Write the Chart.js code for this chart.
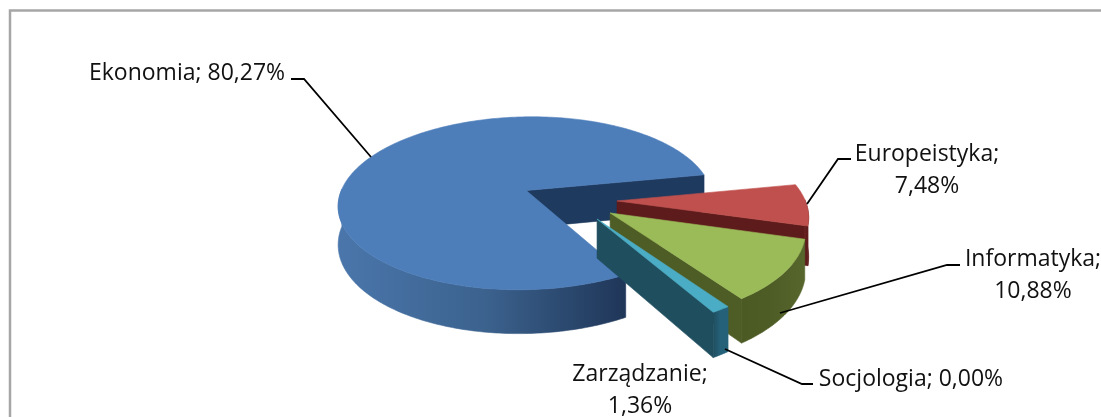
<!DOCTYPE html>
<html>
<head>
<meta charset="utf-8">
<title>Kierunki</title>
<script src="https://cdn.jsdelivr.net/npm/chart.js@4"></script>
<style>
    html, body { margin: 0; padding: 0; background: #fff; overflow: hidden; }
    canvas { display: block; }
</style>
</head>
<body>
<canvas id="pie3d" width="1101" height="417"></canvas>
<script>
const categories = ['Ekonomia', 'Europeistyka', 'Informatyka', 'Socjologia', 'Zarządzanie'];
const shares = [80.27, 7.48, 10.88, 0.00, 1.36];

const topColors = ['#4d7eba', '#c0504d', '#9bbb59', '#8064a2', '#4bacc6'];
const cutColors = ['#1f3a5f', '#5e1b1b', '#4e5d26', '#3f3151', '#1f4e5f'];
const rimColors = [
    ['#4a76ab', '#3c638f', '#1f3658'],
    ['#6b2321', '#5e1b1b', '#5e1b1b'],
    ['#4b5a23', '#4e5d26', '#56662c'],
    ['#3f3151', '#3f3151', '#3f3151'],
    ['#1f4e5f', '#25627a', '#25627a']
];
const explode = [50, 46, 47, 47, 47];

// label text lines are split where the original wraps, anchor = centre of the text
const labelLayout = [
    { lines: 1, x: 187, y: 73 },
    { lines: 2, x: 927, y: 154 },
    { lines: 2, x: 1033, y: 259 },
    { lines: 1, x: 911, y: 379 },
    { lines: 2, x: 640, y: 374 }
];
const leaders = [
    [[291, 79], [304, 79], [371, 157]],
    [[851, 159], [838, 159], [807, 204]],
    [[960, 265], [947, 265], [780, 313]],
    [[813, 384], [802, 384], [725, 349]],
    null
];

const RADIUS = 188;
const ORIGIN_X = 571;
const ORIGIN_Y = 200;
const SQUASH = 0.465;
const PERSPECTIVE = 0.15;
const DEPTH = 38;

const project = (u, v, down) => {
    const s = 1 / (1 - PERSPECTIVE * v / RADIUS);
    return [ORIGIN_X + u * s, ORIGIN_Y + v * SQUASH * s + (down ? DEPTH * s : 0)];
};

const fillShape = (ctx, pts, fill) => {
    ctx.beginPath();
    pts.forEach((p, i) => i ? ctx.lineTo(p[0], p[1]) : ctx.moveTo(p[0], p[1]));
    ctx.closePath();
    ctx.fillStyle = fill;
    ctx.fill();
    // thin same colour stroke closes the seams between faces
    ctx.strokeStyle = fill;
    ctx.lineWidth = 0.6;
    ctx.stroke();
};

const drawSlice = (ctx, arc, i) => {
    const { startAngle, endAngle } = arc;
    if (endAngle - startAngle < 0.001) return;

    const mid = (startAngle + endAngle) / 2;
    const off = arc.options.offset;
    const cu = Math.cos(mid) * off;
    const cv = Math.sin(mid) * off;
    const R = arc.outerRadius;

    const rimPoint = (a, down) => project(cu + Math.cos(a) * R, cv + Math.sin(a) * R, down);
    const apexTop = project(cu, cv, false);
    const apexLow = project(cu, cv, true);

    const steps = Math.max(6, Math.ceil((endAngle - startAngle) / 0.015));
    const angles = [];
    for (let k = 0; k <= steps; k++) {
        angles.push(startAngle + (endAngle - startAngle) * k / steps);
    }

    // cut faces, only the ones turned to the viewer
    if (Math.cos(startAngle) < 0) {
        fillShape(ctx, [apexTop, rimPoint(startAngle, false), rimPoint(startAngle, true), apexLow], cutColors[i]);
    }
    if (Math.cos(endAngle) > 0) {
        fillShape(ctx, [apexTop, rimPoint(endAngle, false), rimPoint(endAngle, true), apexLow], cutColors[i]);
    }

    // round outer wall, near half only
    const near = angles.filter(a => Math.sin(a) > -0.03);
    if (near.length > 1) {
        const top = near.map(a => rimPoint(a, false));
        const low = near.map(a => rimPoint(a, true)).reverse();
        const xs = top.map(p => p[0]);
        const grad = ctx.createLinearGradient(Math.min(...xs), 0, Math.max(...xs), 0);
        rimColors[i].forEach((c, n) => grad.addColorStop(n / 2, c));
        fillShape(ctx, top.concat(low), grad);
    }

    fillShape(ctx, [apexTop].concat(angles.map(a => rimPoint(a, false))), topColors[i]);
};

const pie3dPlugin = {
    id: 'pie3d',
    beforeDatasetDraw(chart, args) {
        const ctx = chart.ctx;
        const arcs = args.meta.data;
        ctx.save();
        // back to front: the big slice first, then clockwise
        arcs.forEach((arc, i) => drawSlice(ctx, arc, i));
        ctx.restore();
        return false;
    },
    afterDraw(chart) {
        const ctx = chart.ctx;
        ctx.save();

        ctx.strokeStyle = '#a6a6a6';
        ctx.lineWidth = 2.5;
        ctx.beginPath();
        ctx.moveTo(10, 430);
        ctx.lineTo(10, 10.5);
        ctx.lineTo(1110, 10.5);
        ctx.stroke();

        ctx.strokeStyle = '#000';
        ctx.lineWidth = 1.8;
        leaders.forEach(line => {
            if (!line) return;
            ctx.beginPath();
            line.forEach((p, i) => i ? ctx.lineTo(p[0], p[1]) : ctx.moveTo(p[0], p[1]));
            ctx.stroke();
        });

        ctx.fillStyle = '#111';
        ctx.font = '23px "Open Sans"';
        ctx.textAlign = 'center';
        ctx.textBaseline = 'middle';
        categories.forEach((name, i) => {
            const value = shares[i].toFixed(2).replace('.', ',') + '%';
            const pos = labelLayout[i];
            if (pos.lines === 1) {
                ctx.fillText(name + '; ' + value, pos.x, pos.y);
            } else {
                ctx.fillText(name + ';', pos.x, pos.y);
                ctx.fillText(value, pos.x, pos.y + 32);
            }
        });
        ctx.restore();
    }
};

new Chart(document.getElementById('pie3d'), {
    type: 'pie',
    data: {
        labels: categories,
        datasets: [{
            data: shares,
            backgroundColor: topColors,
            borderWidth: 0,
            offset: explode,
            hoverOffset: 0
        }]
    },
    options: {
        responsive: false,
        animation: false,
        radius: RADIUS,
        rotation: 150,
        events: [],
        plugins: {
            legend: { display: false },
            tooltip: { enabled: false }
        }
    },
    plugins: [pie3dPlugin]
});
</script>
</body>
</html>
